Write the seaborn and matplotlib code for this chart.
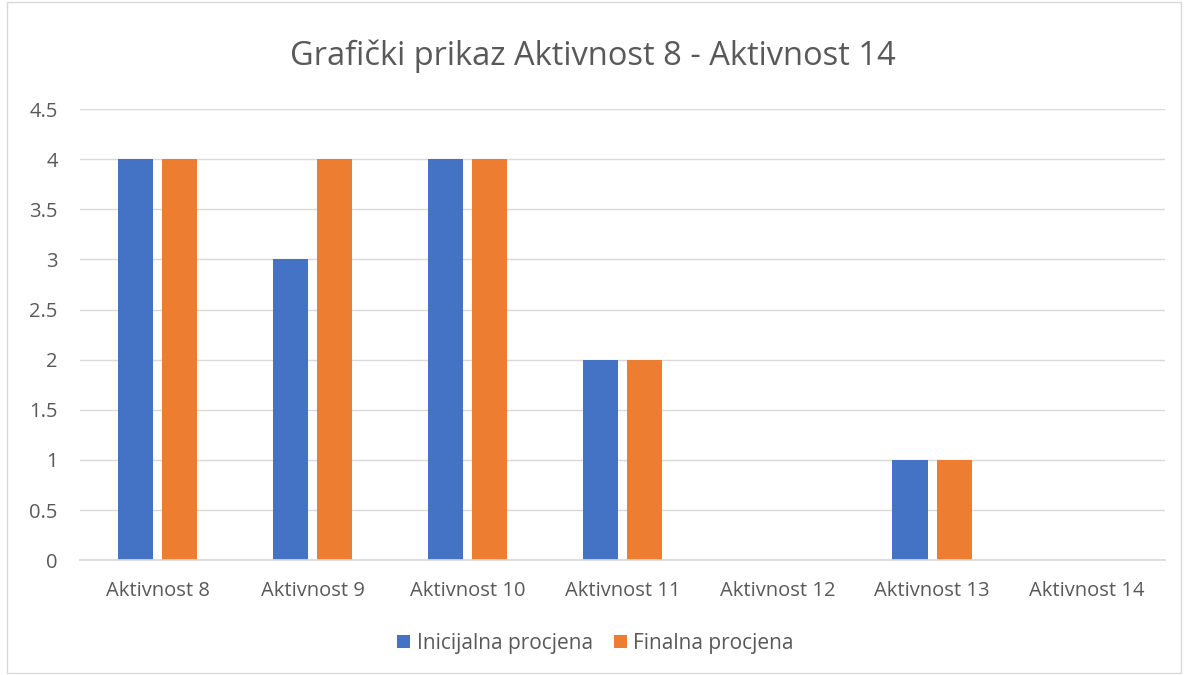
import numpy as np
import pandas as pd
import seaborn as sns
import matplotlib.pyplot as plt
from matplotlib.patches import Rectangle
from matplotlib.ticker import FuncFormatter

sns.set_theme(style="white")
plt.rcParams['font.family'] = ['Open Sans', 'DejaVu Sans']

categories = ['Aktivnost 8', 'Aktivnost 9', 'Aktivnost 10', 'Aktivnost 11',
              'Aktivnost 12', 'Aktivnost 13', 'Aktivnost 14']
inicijalna = [4, 3, 4, 2, 0, 1, 0]
finalna = [4, 4, 4, 2, 0, 1, 0]
series_names = ['Inicijalna procjena', 'Finalna procjena']

df = pd.DataFrame({
    'Aktivnost': categories * 2,
    'Vrijednost': inicijalna + finalna,
    'Serija': [series_names[0]] * len(categories) + [series_names[1]] * len(categories),
})

text_col = '#595959'
fig = plt.figure(figsize=(11.86, 6.75), dpi=100)
ax = fig.add_axes([0.0675, 0.170, 0.9145, 0.6685])

sns.barplot(data=df, x='Aktivnost', y='Vrijednost', hue='Serija',
            palette=['#4472C4', '#ED7D31'], width=0.57, gap=0.2,
            saturation=1, linewidth=0, ax=ax, legend=True)

ax.set_ylim(0, 4.5)
ax.set_yticks(np.arange(0, 4.51, 0.5))
ax.yaxis.set_major_formatter(FuncFormatter(lambda v, p: f'{v:g}'))
ax.set_xlim(-0.5, len(categories) - 0.5)
ax.grid(axis='y', color='#D9D9D9', linewidth=1)
ax.set_axisbelow(True)
for s in ['top', 'right', 'left']:
    ax.spines[s].set_visible(False)
ax.spines['bottom'].set_color('#D9D9D9')
ax.tick_params(axis='both', colors=text_col, labelsize=14.5, length=0)
ax.tick_params(axis='x', pad=15)
ax.tick_params(axis='y', pad=16)
ax.set_xlabel('')
ax.set_ylabel('')

handles, labels = ax.get_legend_handles_labels()
ax.legend_.remove()
fig.legend(handles, labels, loc='center', bbox_to_anchor=(0.502, 0.047), ncol=2,
           frameon=False, fontsize=15, labelcolor=text_col, handlelength=0.65,
           handleheight=0.65, handletextpad=0.3, columnspacing=1.0)

fig.suptitle('Grafički prikaz Aktivnost 8 - Aktivnost 14', y=0.942, fontsize=23.5,
             color=text_col)

fig.patches.append(Rectangle((0.006, 0.003), 0.99, 0.994, transform=fig.transFigure,
                             fill=False, edgecolor='#D9D9D9', linewidth=1))

fig.savefig('out.png', dpi=100)
